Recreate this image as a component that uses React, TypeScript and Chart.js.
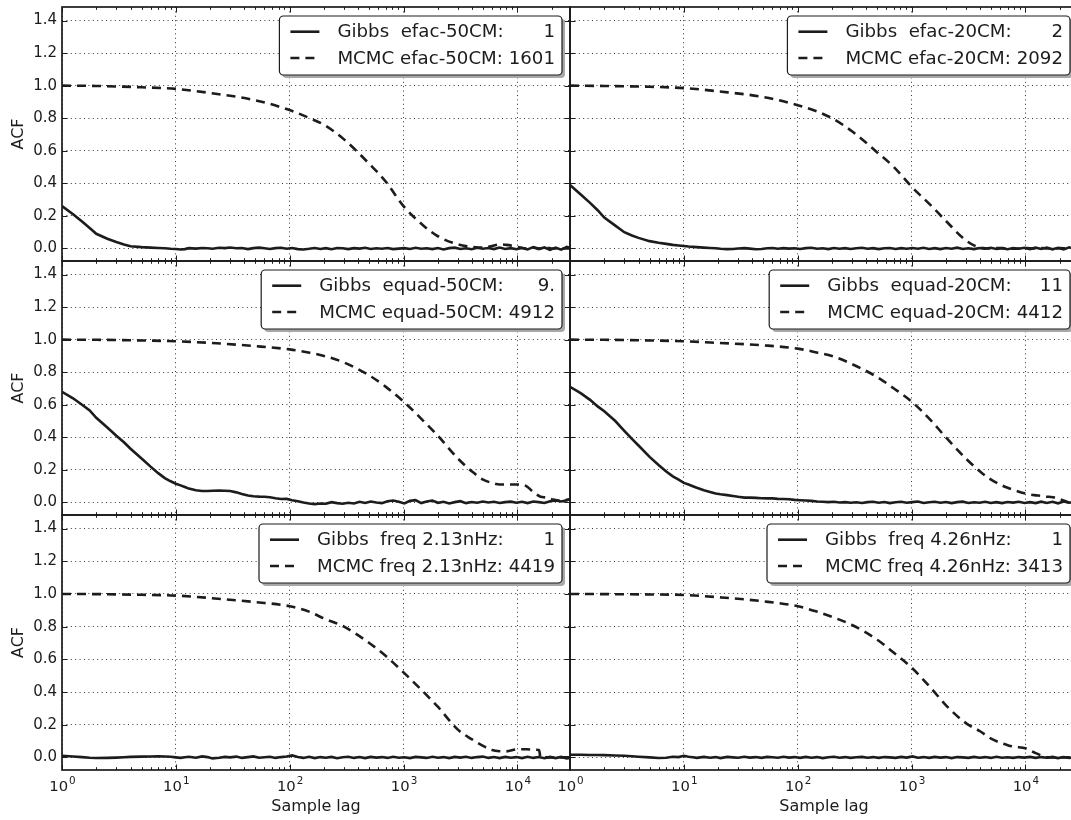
import React, { useEffect, useRef } from 'react';
import { Chart, registerables } from 'chart.js';

Chart.register(...registerables);

// ---- sample lags (x) ----
const LAGS = [
  1, 1.25, 1.5, 1.75, 2, 2.5, 3, 3.5, 4, 5, 6, 7, 8, 9, 10,
  11, 12, 13, 15, 17, 19, 21, 24, 27, 30, 34, 38, 43, 48, 54, 60, 67, 75, 84, 94,
  105, 118, 132, 148, 166, 186, 208, 233, 261, 292, 327, 367, 411, 460, 515, 577, 646, 724, 811, 908,
  1017, 1139, 1276, 1429, 1600, 1792, 2007, 2248, 2518, 2820, 3158, 3537, 3962, 4437, 4970, 5566, 6234, 6982, 7820, 8758, 9809,
  10986, 12304, 13781, 15435, 17287, 19361, 21685, 24287, 27202, 29000,
];
const SMOOTH_LAGS = [
  1, 2, 5, 10, 20, 50, 100, 150, 200, 300, 500, 700, 1000, 1500, 2000, 3000, 4000, 5000, 6000, 7000,
  8000, 10000, 12000, 14000, 15500, 16000, 18000, 20000, 24000, 29000,
];

// ---- Gibbs ACF (solid) ----
const GIBBS_EFAC_50 = [
  0.26, 0.21, 0.165, 0.125, 0.09, 0.06, 0.04, 0.025, 0.014, 0.008, 0.005, 0.003, 0.001, -0.002, -0.003,
  -0.006, -0.004, 0.002, -0.001, 0.003, 0.001, -0.002, 0.004, 0.002, 0.006, 0.001, 0.003, -0.004, 0.002, 0.005, 0.001, -0.003, 0.002, 0.004, -0.002,
  0.003, -0.004, -0.006, -0.002, 0.003, -0.003, 0.002, -0.005, 0.003, 0.001, -0.004, 0.002, -0.001, 0.004, -0.003, 0.001, -0.002, 0.003, -0.004, -0.001,
  0.002, -0.003, 0.004, -0.002, 0.001, -0.004, 0.003, -0.006, 0.002, 0.005, -0.003, 0.001, -0.005, 0.004, -0.002, 0.003, -0.004, 0.006, -0.003, 0.002, -0.005,
  0.003, -0.006, 0.008, -0.004, 0.006, -0.009, 0.005, -0.007, 0.01, 0.004,
];
const GIBBS_EFAC_20 = [
  0.39, 0.33, 0.28, 0.235, 0.19, 0.14, 0.1, 0.08, 0.065, 0.045, 0.035, 0.028, 0.022, 0.018, 0.015,
  0.012, 0.01, 0.008, 0.005, 0.003, 0.001, -0.002, -0.004, -0.003, 0.0, 0.002, -0.001, -0.005, -0.003, 0.001, 0.003, -0.002, 0.002, -0.001, 0.001,
  -0.003, 0.002, 0.004, -0.002, 0.001, -0.004, 0.003, -0.002, 0.002, -0.003, 0.001, 0.004, -0.002, 0.002, -0.004, 0.001, 0.003, -0.003, 0.002, -0.002,
  0.003, -0.002, 0.004, -0.003, 0.002, -0.004, 0.003, -0.002, 0.005, -0.003, 0.001, -0.004, 0.003, -0.002, 0.004, -0.003, 0.002, -0.005, 0.003, -0.002, 0.004,
  -0.004, 0.005, -0.003, 0.006, -0.005, 0.004, -0.006, 0.007, -0.004, 0.003,
];
const GIBBS_EQUAD_50 = [
  0.68, 0.64, 0.6, 0.565, 0.52, 0.46, 0.41, 0.37, 0.33, 0.27, 0.22, 0.18, 0.15, 0.13, 0.115,
  0.105, 0.095, 0.085, 0.075, 0.07, 0.07, 0.072, 0.073, 0.072, 0.07, 0.062, 0.052, 0.043, 0.038, 0.036, 0.035, 0.032, 0.026, 0.021, 0.022,
  0.014, 0.008, 0.0, -0.006, -0.01, -0.006, -0.008, 0.002, -0.004, -0.008, -0.002, -0.006, 0.004, -0.003, 0.006, 0.0, -0.004, 0.008, 0.012, 0.004,
  -0.006, 0.01, 0.014, -0.004, 0.006, 0.012, -0.002, 0.004, -0.006, 0.002, 0.008, -0.004, 0.003, -0.002, 0.006, 0.0, 0.004, -0.003, 0.002, 0.005, -0.002,
  0.004, -0.004, 0.006, 0.002, -0.003, 0.008, 0.012, 0.006, 0.014, 0.02,
];
const GIBBS_EQUAD_20 = [
  0.71, 0.67, 0.63, 0.59, 0.56, 0.5, 0.44, 0.39, 0.35, 0.28, 0.23, 0.19, 0.16, 0.14, 0.12,
  0.11, 0.1, 0.09, 0.075, 0.065, 0.055, 0.05, 0.045, 0.04, 0.035, 0.03, 0.03, 0.028, 0.026, 0.025, 0.025, 0.022, 0.021, 0.02, 0.016,
  0.014, 0.012, 0.01, 0.006, 0.004, 0.002, 0.004, 0.0, 0.002, -0.002, 0.001, -0.003, 0.002, 0.004, -0.002, 0.003, -0.004, 0.001, 0.004, -0.002,
  0.002, 0.006, -0.003, 0.001, 0.004, -0.002, 0.003, -0.004, 0.002, 0.005, -0.003, 0.001, -0.002, 0.004, -0.003, 0.002, -0.004, 0.003, -0.001, 0.004, -0.003,
  0.002, -0.004, 0.005, -0.003, 0.004, -0.005, 0.006, -0.002, 0.004, 0.002,
];
const GIBBS_FREQ_213 = [
  0.01, 0.006, 0.002, -0.002, -0.004, -0.003, -0.001, 0.001, 0.003, 0.005, 0.006, 0.007, 0.006, 0.004, 0.0,
  -0.003, 0.001, 0.004, -0.002, 0.006, 0.002, -0.006, -0.002, 0.003, 0.0, 0.005, -0.003, 0.002, 0.006, -0.002, 0.001, 0.004, -0.003, 0.002, 0.006,
  0.012, 0.002, -0.003, 0.004, -0.004, 0.002, -0.002, 0.003, -0.005, 0.001, 0.004, -0.003, 0.002, -0.004, 0.003, -0.001, 0.002, -0.003, 0.004, -0.002,
  0.001, -0.004, 0.003, 0.0, -0.003, 0.004, -0.002, 0.002, -0.004, 0.003, -0.001, 0.004, -0.003, 0.002, 0.005, -0.003, 0.002, -0.004, 0.003, -0.002, 0.002,
  -0.004, 0.004, -0.003, 0.002, -0.005, 0.003, -0.004, 0.003, -0.006, -0.004,
];
const GIBBS_FREQ_426 = [
  0.016, 0.016, 0.015, 0.015, 0.014, 0.012, 0.01, 0.007, 0.004, 0.0, -0.004, -0.002, 0.004, 0.002, 0.01,
  0.004, 0.001, -0.003, 0.003, -0.002, 0.002, -0.004, 0.003, 0.0, -0.002, 0.004, -0.001, 0.002, -0.003, 0.003, 0.001, -0.002, 0.004, -0.001, 0.002,
  -0.003, 0.003, -0.002, 0.002, -0.004, 0.001, 0.004, -0.002, 0.002, -0.003, 0.001, 0.003, -0.002, 0.002, -0.003, 0.002, 0.0, -0.003, 0.003, -0.001,
  0.006, -0.002, 0.002, -0.003, 0.003, -0.001, 0.002, -0.004, 0.002, 0.0, -0.003, 0.003, -0.002, 0.002, -0.003, 0.004, -0.002, 0.001, -0.003, 0.002, -0.001,
  0.003, -0.003, 0.002, -0.002, 0.003, -0.004, 0.002, -0.003, 0.004, -0.002,
];

// ---- MCMC ACF (dashed) ----
const MCMC_EFAC_50 = [
  1.0, 0.998, 0.99, 0.98, 0.955, 0.91, 0.85, 0.8, 0.76, 0.67, 0.52, 0.41, 0.26, 0.14, 0.075, 0.025, 0.01, 0.005, 0.015, 0.025,
  0.022, 0.01, 0.0, 0.005, 0.0, 0.0, 0.005, 0.0, 0.0, 0.0,
];
const MCMC_EFAC_20 = [
  1.0, 0.998, 0.993, 0.985, 0.965, 0.93, 0.88, 0.84, 0.8, 0.72, 0.59, 0.5, 0.38, 0.26, 0.17, 0.05, 0.005, 0.0, 0.003, 0.0,
  -0.002, 0.002, 0.0, 0.003, 0.0, 0.0, -0.002, 0.002, 0.0, 0.0,
];
const MCMC_EQUAD_50 = [
  1.0, 0.999, 0.995, 0.99, 0.98, 0.96, 0.94, 0.92, 0.9, 0.86, 0.78, 0.71, 0.62, 0.5, 0.41, 0.27, 0.19, 0.14, 0.12, 0.11,
  0.11, 0.11, 0.1, 0.06, 0.04, 0.035, 0.03, 0.02, 0.01, 0.02,
];
const MCMC_EQUAD_20 = [
  1.0, 0.999, 0.995, 0.99, 0.98, 0.965, 0.945, 0.92, 0.9, 0.85, 0.77, 0.7, 0.62, 0.5, 0.4, 0.27, 0.19, 0.14, 0.11, 0.09,
  0.075, 0.055, 0.045, 0.04, 0.035, 0.035, 0.03, 0.02, 0.0, -0.03,
];
const MCMC_FREQ_213 = [
  1.0, 0.999, 0.995, 0.99, 0.975, 0.95, 0.925, 0.89, 0.85, 0.8, 0.7, 0.62, 0.52, 0.4, 0.31, 0.17, 0.11, 0.07, 0.045, 0.038,
  0.037, 0.05, 0.05, 0.047, 0.045, 0.0, 0.0, 0.0, 0.0, 0.0,
];
const MCMC_FREQ_426 = [
  1.0, 0.999, 0.997, 0.994, 0.98, 0.955, 0.925, 0.89, 0.86, 0.81, 0.72, 0.64, 0.55, 0.42, 0.32, 0.21, 0.16, 0.115, 0.09, 0.075,
  0.065, 0.056, 0.03, 0.01, 0.0, 0.0, 0.0, 0.0, 0.0, 0.0,
];

// ---- labels ----
const PANEL_NAMES = ['efac-50CM', 'efac-20CM', 'equad-50CM', 'equad-20CM', 'freq 2.13nHz', 'freq 4.26nHz'];
const GIBBS_LEGEND_VALUES = ['1', '2', '9.', '11', '1', '1'];
const MCMC_LEGEND_VALUES = ['1601', '2092', '4912', '4412', '4419', '3413'];
const GIBBS_SERIES = [GIBBS_EFAC_50, GIBBS_EFAC_20, GIBBS_EQUAD_50, GIBBS_EQUAD_20, GIBBS_FREQ_213, GIBBS_FREQ_426];
const MCMC_SERIES = [MCMC_EFAC_50, MCMC_EFAC_20, MCMC_EQUAD_50, MCMC_EQUAD_20, MCMC_FREQ_213, MCMC_FREQ_426];
const X_MAJOR = [1, 10, 100, 1000, 10000];
const X_TICK_BASE = '10';
const X_TICK_EXPONENTS = ['0', '1', '2', '3', '4'];
const Y_TICKS = [0, 0.2, 0.4, 0.6, 0.8, 1.0, 1.2, 1.4];
const X_TITLE = 'Sample lag';
const Y_TITLE = 'ACF';

const X_MIN = 1;
const X_MAX = 29000;
const Y_MIN = -0.077;
const Y_MAX = 1.483;

// ---- style / geometry ----
const INK = '#1c1c1c';
const FONT = '"DejaVu Sans", "Bitstream Vera Sans", sans-serif';
const PLOT_LEFT = [62, 570];
const PLOT_W = 508;
const ROW_TOP = [7, 261, 515];
const ROW_H = [254, 254, 255];
const MINOR_MULTS = [1, 2, 3, 4, 5, 6, 7, 8, 9];

function roundRect(ctx: CanvasRenderingContext2D, x: number, y: number, w: number, h: number, r: number) {
  ctx.beginPath();
  ctx.moveTo(x + r, y);
  ctx.arcTo(x + w, y, x + w, y + h, r);
  ctx.arcTo(x + w, y + h, x, y + h, r);
  ctx.arcTo(x, y + h, x, y, r);
  ctx.arcTo(x, y, x + w, y, r);
  ctx.closePath();
}

const framePlugin = {
  id: 'acfFrame',
  afterDraw(chart: any, _args: any, opts: any) {
    const { ctx, chartArea: a, scales } = chart;
    const xs = scales.x;
    const ys = scales.y;
    ctx.save();
    ctx.strokeStyle = INK;
    ctx.lineWidth = 1;
    ctx.setLineDash([]);
    const seg = (x1: number, y1: number, x2: number, y2: number) => {
      ctx.beginPath();
      ctx.moveTo(x1, y1);
      ctx.lineTo(x2, y2);
      ctx.stroke();
    };
    for (const d of X_MAJOR) {
      for (const m of MINOR_MULTS) {
        const v = m * d;
        if (v < X_MIN || v > X_MAX) continue;
        const px = Math.round(xs.getPixelForValue(v)) + 0.5;
        const len = m === 1 ? 5.5 : 2.8;
        seg(px, a.bottom, px, a.bottom - len);
        seg(px, a.top, px, a.top + len);
      }
    }
    for (const v of Y_TICKS) {
      const py = Math.round(ys.getPixelForValue(v)) + 0.5;
      seg(a.left, py, a.left + 5.5, py);
      seg(a.right, py, a.right - 5.5, py);
    }
    ctx.lineWidth = 1.7;
    ctx.strokeRect(a.left, a.top, a.right - a.left, a.bottom - a.top);

    // x tick labels as 10 with a raised exponent
    if (opts.showXLabels) {
      ctx.fillStyle = INK;
      ctx.textBaseline = 'alphabetic';
      ctx.textAlign = 'left';
      X_MAJOR.forEach((v, i) => {
        const px = xs.getPixelForValue(v);
        ctx.font = `14.8px ${FONT}`;
        const bw = ctx.measureText(X_TICK_BASE).width;
        ctx.font = `10.4px ${FONT}`;
        const ew = ctx.measureText(X_TICK_EXPONENTS[i]).width;
        const x0 = px - (bw + 1 + ew) / 2 + 0.5;
        const base = a.bottom + 21;
        ctx.font = `14.8px ${FONT}`;
        ctx.fillText(X_TICK_BASE, x0, base);
        ctx.font = `10.4px ${FONT}`;
        ctx.fillText(X_TICK_EXPONENTS[i], x0 + bw + 1, base - 7.5);
      });
    }

    // legend
    const rows = [
      { label: opts.gibbsLabel, value: opts.gibbsValue, dash: [] as number[] },
      { label: opts.mcmcLabel, value: opts.mcmcValue, dash: [9, 6] },
    ];
    ctx.font = `18.2px ${FONT}`;
    const textW = Math.max(...rows.map((r) => ctx.measureText(r.label + ' ' + r.value).width));
    const w = 58 + textW + 7;
    const h = 59;
    const x = a.right - 8 - w;
    const y = a.top + 9;
    ctx.fillStyle = '#a8a8a8';
    roundRect(ctx, x + 3, y + 3, w, h, 4);
    ctx.fill();
    ctx.fillStyle = '#ffffff';
    roundRect(ctx, x, y, w, h, 4);
    ctx.fill();
    ctx.lineWidth = 1.2;
    ctx.strokeStyle = INK;
    ctx.stroke();
    rows.forEach((r, i) => {
      const cy = y + 15.7 + i * 26.3;
      ctx.setLineDash(r.dash);
      ctx.lineWidth = 2.6;
      ctx.beginPath();
      ctx.moveTo(x + 11, cy);
      ctx.lineTo(x + 40, cy);
      ctx.stroke();
      ctx.setLineDash([]);
      ctx.fillStyle = INK;
      ctx.textBaseline = 'middle';
      ctx.textAlign = 'left';
      ctx.fillText(r.label, x + 58, cy + 1);
      ctx.textAlign = 'right';
      ctx.fillText(r.value, x + w - 7, cy + 1);
    });
    ctx.restore();
  },
};

function Panel({ idx }: { idx: number }) {
  const ref = useRef<HTMLCanvasElement>(null);
  const row = Math.floor(idx / 2);
  const col = idx % 2;
  const L = col === 0 ? 62 : 22;
  const T = 3;
  const R = 3;
  const B = row === 2 ? 50 : 3;
  const PH = ROW_H[row];
  const W = L + PLOT_W + R;
  const H = T + PH + B;
  const left = PLOT_LEFT[col] - L;
  const top = ROW_TOP[row] - T;

  useEffect(() => {
    const canvas = ref.current;
    if (!canvas) return;
    const gibbs = GIBBS_SERIES[idx];
    const mcmc = MCMC_SERIES[idx];
    const name = PANEL_NAMES[idx];
    const chart = new Chart(canvas, {
      type: 'line',
      data: {
        datasets: [
          {
            label: 'Gibbs',
            data: LAGS.map((x, i) => ({ x, y: gibbs[i] })),
            borderColor: INK,
            borderWidth: 2.6,
            pointRadius: 0,
            tension: 0,
            fill: false,
          },
          {
            label: 'MCMC',
            data: SMOOTH_LAGS.map((x, i) => ({ x, y: mcmc[i] })),
            borderColor: INK,
            borderWidth: 2.6,
            borderDash: [9, 6],
            pointRadius: 0,
            cubicInterpolationMode: 'monotone',
            fill: false,
          },
        ],
      } as any,
      options: {
        responsive: false,
        animation: false,
        devicePixelRatio: 1,
        events: [],
        layout: { padding: { left: 0, top: T, right: R, bottom: row === 2 ? 0 : B } },
        plugins: {
          legend: { display: false },
          tooltip: { enabled: false },
          acfFrame: {
            gibbsLabel: 'Gibbs  ' + name + ':',
            gibbsValue: GIBBS_LEGEND_VALUES[idx],
            mcmcLabel: 'MCMC ' + name + ':',
            mcmcValue: MCMC_LEGEND_VALUES[idx],
            showXLabels: row === 2,
          },
        } as any,
        scales: {
          x: {
            type: 'logarithmic',
            min: X_MIN,
            max: X_MAX,
            afterBuildTicks: (s: any) => {
              s.ticks = X_MAJOR.map((v) => ({ value: v }));
            },
            afterFit: (s: any) => {
              s.height = row === 2 ? B : 0;
              s.paddingLeft = 0;
              s.paddingRight = 0;
              s.paddingTop = 0;
              s.paddingBottom = 0;
            },
            ticks: { display: false },
            grid: { display: true, color: 'rgba(0,0,0,0.8)', lineWidth: 1, drawTicks: false },
            border: { display: false, dash: [1, 3.4] },
            title: {
              display: row === 2,
              text: X_TITLE,
              color: INK,
              font: { family: FONT, size: 16 },
              padding: { top: 0, bottom: 3.6 },
            },
          },
          y: {
            type: 'linear',
            min: Y_MIN,
            max: Y_MAX,
            afterBuildTicks: (s: any) => {
              s.ticks = Y_TICKS.map((v) => ({ value: v }));
            },
            afterFit: (s: any) => {
              s.width = L;
              s.paddingLeft = 0;
              s.paddingRight = 0;
              s.paddingTop = 0;
              s.paddingBottom = 0;
            },
            ticks: {
              display: col === 0,
              padding: 5,
              color: INK,
              font: { family: FONT, size: 15 },
              callback: (v: any) => Number(v).toFixed(1),
            },
            grid: { display: true, color: 'rgba(0,0,0,0.8)', lineWidth: 1, drawTicks: false },
            border: { display: false, dash: [1, 3.4] },
            title: {
              display: col === 0,
              text: Y_TITLE,
              color: INK,
              font: { family: FONT, size: 16 },
              padding: { top: 8.8, bottom: 0 },
            },
          },
        } as any,
      },
      plugins: [framePlugin as any],
    });
    return () => chart.destroy();
  }, [idx]);

  return (
    <canvas
      ref={ref}
      width={W}
      height={H}
      style={{ position: 'absolute', left, top, width: W, height: H }}
    />
  );
}

export default function App() {
  return (
    <div
      style={{
        position: 'fixed',
        left: 0,
        top: 0,
        width: 1071,
        height: 820,
        overflow: 'hidden',
        background: '#ffffff',
      }}
    >
      {[0, 1, 2, 3, 4, 5].map((i) => (
        <Panel key={i} idx={i} />
      ))}
    </div>
  );
}
